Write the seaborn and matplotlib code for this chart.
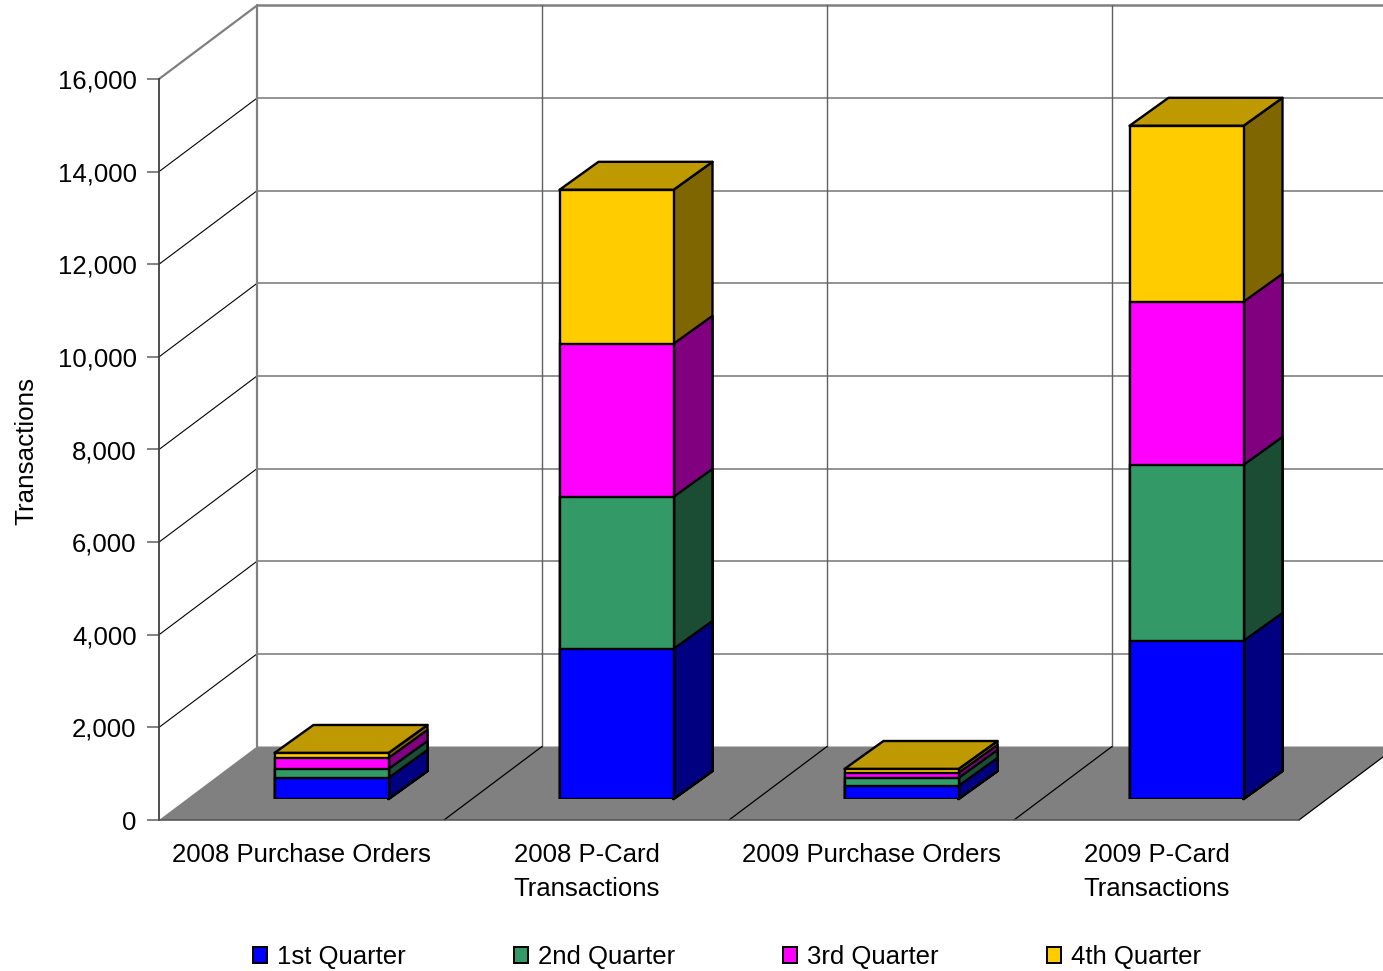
import matplotlib
matplotlib.use('Agg')
import matplotlib.pyplot as plt
from matplotlib.patches import Patch, Polygon
from matplotlib.ticker import StrMethodFormatter
import pandas as pd
import seaborn as sns

categories = ['2008 Purchase Orders', '2008 P-Card\nTransactions', '2009 Purchase Orders', '2009 P-Card\nTransactions']
quarters = ['1st Quarter', '2nd Quarter', '3rd Quarter', '4th Quarter']
q1 = [454, 3240, 281, 3413]
q2 = [194, 3283, 173, 3801]
q3 = [238, 3305, 108, 3521]
q4 = [108, 3326, 86, 3801]
y_ticks = [0, 2000, 4000, 6000, 8000, 10000, 12000, 14000, 16000]

front = ['#0000FF', '#339966', '#FF00FF', '#FFCC00']
side = ['#000080', '#1A4D33', '#800080', '#806600']
top_color = '#BF9900'

W, H = 1383, 971
FS = 18.5


def px_axes(left, top, right, bottom):
    return fig.add_axes([left / W, 1 - bottom / H, (right - left) / W, (bottom - top) / H])


# stacked values, drawn back to front so the lower quarter covers the upper one
rows = []
totals = [0, 0, 0, 0]
for name, vals in zip(quarters, [q1, q2, q3, q4]):
    totals = [t + v for t, v in zip(totals, vals)]
    for cat, t in zip(categories, totals):
        rows.append({'category': cat, 'quarter': name, 'total': t})
df = pd.DataFrame(rows)

sns.set_theme(style='white')
plt.rcParams['font.family'] = ['Liberation Sans', 'DejaVu Sans']

fig = plt.figure(figsize=(W / 100, H / 100), dpi=100)
ax = px_axes(159, 79, 1299, 820)
ax.set_xlim(-0.5, 3.5)
ax.set_ylim(0, 16000)

# box depth in data units
wall_dx = 98 / 285
wall_dy = 73.5 / (741 / 16000)
bar_dx = 39 / 285
bar_dy = 28 / (741 / 16000)

# floor
ax.add_patch(Polygon([(-0.5, 0), (3.5, 0), (3.5 + wall_dx, wall_dy), (-0.5 + wall_dx, wall_dy)],
                     closed=True, fc='#808080', ec='none', clip_on=False, zorder=1))
for k in range(1, 5):
    ax.plot([k - 0.5, k - 0.5 + wall_dx], [0, wall_dy], color='black', lw=0.9, clip_on=False, zorder=1.5)

# walls
for i, y in enumerate(y_ticks[1:]):
    last = y == y_ticks[-1]
    ax.plot([-0.5, -0.5 + wall_dx], [y, y + wall_dy], color='#808080' if last else 'black',
            lw=1.6 if last else 0.8, clip_on=False, zorder=1.2)
    ax.plot([-0.5 + wall_dx, 3.5 + wall_dx], [y + wall_dy, y + wall_dy], color='#808080',
            lw=1.8 if last else 1.2, clip_on=False, zorder=1.2)
for k in range(4):
    x = k - 0.5 + wall_dx
    ax.plot([x, x], [wall_dy, 16000 + wall_dy], color='#808080' if k == 0 else '#606060',
            lw=1.6 if k == 0 else 1.0, clip_on=False, zorder=1.2)

ax.set_yticks(y_ticks)
ax.yaxis.set_major_formatter(StrMethodFormatter('{x:,.0f}'))
ax.set_xticks(range(4), categories)
ax.tick_params(axis='y', length=8.6, width=1.1, color='#606060', pad=7.5, labelsize=FS, labelcolor='black', left=True)
ax.tick_params(axis='x', length=0, pad=16.5, labelsize=FS, labelcolor='black')
for t in ax.get_xticklabels():
    t.set_linespacing(1.54)
ax.set_ylabel('Transactions', fontsize=FS + 0.2, color='black')
ax.yaxis.set_label_coords(-0.106, 0.498)
ax.patch.set_alpha(0)
for s in ['top', 'right']:
    ax.spines[s].set_visible(False)
ax.spines['left'].set_color('#404040')
ax.spines['left'].set_linewidth(1.3)
ax.spines['bottom'].set_color('#505050')
ax.spines['bottom'].set_linewidth(1.1)

# bars sit inside the floor, so same scale moved right and up
bar_ax = px_axes(159 + 30, 79 - 21, 1299 + 30, 820 - 21)
bar_ax.patch.set_alpha(0)
order = quarters[::-1]
sns.barplot(data=df, x='category', y='total', hue='quarter', hue_order=order,
            palette=dict(zip(quarters, front)), dodge=False, width=0.4, saturation=1,
            edgecolor='black', linewidth=1.7, legend=False, ax=bar_ax, zorder=3)
bar_ax.set_xlim(-0.5, 3.5)
bar_ax.set_ylim(0, 16000)
bar_ax.axis('off')

for cont, name in zip(bar_ax.containers, order):
    c = side[quarters.index(name)]
    for b in cont:
        x1 = b.get_x() + b.get_width()
        h = b.get_height()
        bar_ax.add_patch(Polygon([(x1, 0), (x1 + bar_dx, bar_dy), (x1 + bar_dx, h + bar_dy), (x1, h)],
                                 closed=True, fc=c, ec='black', lw=1.7, clip_on=False, zorder=2,
                                 joinstyle='round'))
        if name == quarters[-1]:
            x0 = b.get_x()
            bar_ax.add_patch(Polygon([(x0, h), (x1, h), (x1 + bar_dx, h + bar_dy), (x0 + bar_dx, h + bar_dy)],
                                     closed=True, fc=top_color, ec='black', lw=1.7, clip_on=False, zorder=2,
                                     joinstyle='round'))

handles = [Patch(fc=c, ec='black', lw=1.4, label=q) for c, q in zip(front, quarters)]
fig.legend(handles=handles, ncol=4, loc='center', bbox_to_anchor=(727 / W, 1 - 957 / H), frameon=False,
           fontsize=FS, handlelength=0.55, handleheight=0.55, handletextpad=0.4, columnspacing=4.2,
           labelcolor='black')

fig.savefig('out.png', dpi=100)
